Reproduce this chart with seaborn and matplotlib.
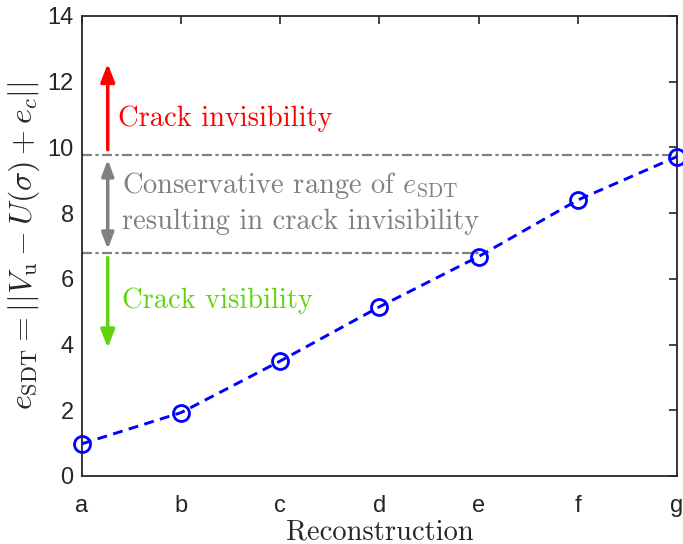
import matplotlib
matplotlib.use("Agg")
import matplotlib.pyplot as plt
import seaborn as sns
import pandas as pd

categories = ["a", "b", "c", "d", "e", "f", "g"]
e_sdt = [0.98, 1.93, 3.5, 5.15, 6.68, 8.4, 9.72]
upper_threshold = 9.78
lower_threshold = 6.8
y_ticks = [0, 2, 4, 6, 8, 10, 12, 14]

sns.set_theme(style="white")
plt.rcParams["mathtext.fontset"] = "cm"
plt.rcParams["font.family"] = ["Liberation Sans", "DejaVu Sans"]
plt.rcParams["axes.unicode_minus"] = False

df = pd.DataFrame({"idx": range(len(categories)), "val": e_sdt})

fig = plt.figure(figsize=(6.83, 5.44), dpi=100)
ax = fig.add_axes([0.120, 0.125, 0.8712, 0.8456])

sns.lineplot(data=df, x="idx", y="val", ax=ax, color="#0000FF", linestyle=(0, (3.4, 2.2)),
             linewidth=2.1, marker="o", markersize=11.5, markerfacecolor="none",
             markeredgecolor="#0000FF", markeredgewidth=2.0, zorder=3, clip_on=False)

gray = "#808080"
ax.plot([0, 6], [upper_threshold, upper_threshold], color=gray, linewidth=1.6,
        linestyle=(0, (4.5, 1.5, 1.5, 1.5)), zorder=2)
ax.plot([0, 4], [lower_threshold, lower_threshold], color=gray, linewidth=1.6,
        linestyle=(0, (4.5, 1.5, 1.5, 1.5)), zorder=2)

ax_x = 0.26
ax.annotate("", xy=(ax_x, 12.55), xytext=(ax_x, upper_threshold + 0.15),
            arrowprops=dict(arrowstyle="-|>,head_width=0.35,head_length=0.9", color="red", lw=2.5,
                            shrinkA=0, shrinkB=0))
ax.annotate("", xy=(ax_x, lower_threshold + 0.1), xytext=(ax_x, upper_threshold - 0.15),
            arrowprops=dict(arrowstyle="<|-|>,head_width=0.3,head_length=0.8", color=gray, lw=2.5,
                            shrinkA=0, shrinkB=0))
green = "#5FD40F"
ax.annotate("", xy=(ax_x, 3.9), xytext=(ax_x, lower_threshold - 0.15),
            arrowprops=dict(arrowstyle="-|>,head_width=0.35,head_length=0.9", color=green, lw=2.5,
                            shrinkA=0, shrinkB=0))

tfont = dict(family="cmr10", fontsize=20.5)
ax.text(0.36, 10.86, "Crack invisibility", color="red", va="center", ha="left", **tfont)
ax.text(0.40, 8.83, "Conservative range of $e_{\\mathrm{SDT}}$", color=gray, va="center", ha="left", **tfont)
ax.text(0.40, 7.73, "resulting in crack invisibility", color=gray, va="center", ha="left", **tfont)
ax.text(0.40, 5.33, "Crack visibility", color=green, va="center", ha="left", **tfont)

ax.set_xlim(0, 6)
ax.set_ylim(0, 14)
ax.set_xticks(range(len(categories)))
ax.set_xticklabels(categories)
ax.set_yticks(y_ticks)
ax.tick_params(direction="in", length=6, width=1.2, top=True, right=True,
               labelsize=17, colors="#262626")
ax.tick_params(axis="x", pad=14)
ax.tick_params(axis="y", pad=6)
ax.set_xlabel("Reconstruction", family="cmr10", fontsize=20.5, color="#262626", labelpad=1)
ax.set_ylabel("$e_{\\mathrm{SDT}} = ||V_{\\mathrm{u}} - U(\\sigma) + e_c||$", fontsize=23,
              color="#262626", labelpad=4)
for s in ax.spines.values():
    s.set_color("#262626")
    s.set_linewidth(1.3)

fig.savefig("out.png", dpi=100)
